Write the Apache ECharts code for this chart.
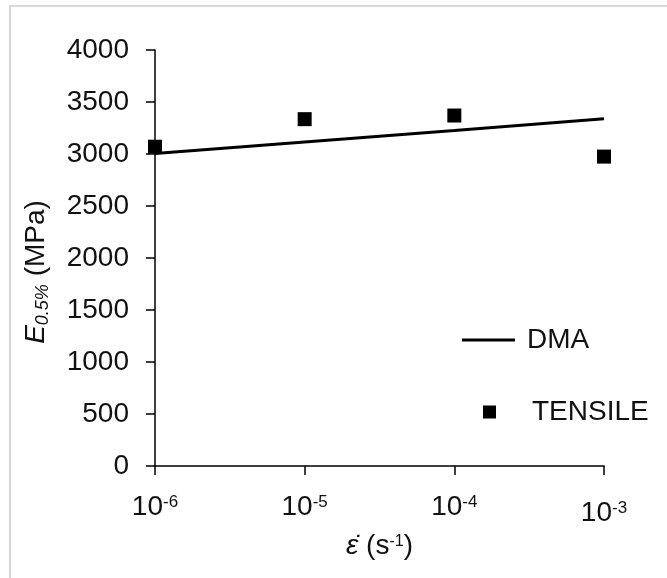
<!DOCTYPE html>
<html>
<head>
<meta charset="utf-8">
<script src="https://cdn.jsdelivr.net/npm/echarts@6/dist/echarts.min.js"></script>
<style>
html,body{margin:0;padding:0;background:#fff;}
#chart{width:667px;height:578px;}
</style>
</head>
<body>
<div id="chart"></div>
<script>
// ---- data ----
var strainRates = [1e-6, 1e-5, 1e-4, 1e-3];
var tensileValues = [3070, 3335, 3370, 2975];
var dmaRates = [1e-6, 1e-5, 1e-4, 1e-3];
var dmaValues = [3005, 3115, 3225, 3340];
var xTickExponents = ['-6', '-5', '-4', '-3'];
var xTickBases = ['10', '10', '10', '10'];
var yTicks = [0, 500, 1000, 1500, 2000, 2500, 3000, 3500, 4000];

var FONT = 'Liberation Sans, Arial, sans-serif';
var TXT = '#111';
var FS = 28;

var chart = echarts.init(document.getElementById('chart'), null, {renderer: 'canvas'});

function pairs(xs, ys) { return xs.map(function (x, i) { return [x, ys[i]]; }); }

var option = {
  animation: false,
  backgroundColor: '#fff',
  graphic: [{
    type: 'rect',
    shape: {x: 10, y: 6, width: 700, height: 700},
    style: {fill: 'none', stroke: '#d9d9d9', lineWidth: 2},
    silent: true, z: -10
  }],
  grid: {left: 155, right: 63, top: 50, bottom: 112, containLabel: false},
  xAxis: {
    type: 'log',
    logBase: 10,
    min: strainRates[0],
    max: strainRates[strainRates.length - 1],
    name: '{e|ε̇}{p| (s}{sup|-1}{p|)}',
    nameLocation: 'middle',
    nameGap: 63,
    nameTextStyle: {
      rich: {
        e: {fontFamily: FONT, fontSize: FS, fontStyle: 'italic', color: TXT, lineHeight: 32, verticalAlign: 'top'},
        p: {fontFamily: FONT, fontSize: FS, color: TXT, lineHeight: 32, verticalAlign: 'top'},
        sup: {fontFamily: FONT, fontSize: 16, color: TXT, lineHeight: 18, verticalAlign: 'top', padding: [2, 0, 0, 0]}
      }
    },
    axisLine: {show: true, onZero: false, lineStyle: {color: '#000', width: 1.5}},
    axisTick: {show: true, inside: false, length: 9, lineStyle: {color: '#000', width: 1.5}},
    splitLine: {show: false},
    minorTick: {show: false},
    axisLabel: {
      margin: 27,
      formatter: function (v) {
        var e = Math.round(Math.log10(v));
        var idx = strainRates.findIndex(function (r) { return Math.round(Math.log10(r)) === e; });
        if (idx < 0) return '';
        if (idx === strainRates.length - 1) return '{b2|' + xTickBases[idx] + '}{s2|' + xTickExponents[idx] + '}';
        return '{b|' + xTickBases[idx] + '}{s|' + xTickExponents[idx] + '}';
      },
      rich: {
        b: {fontFamily: FONT, fontSize: FS, color: TXT, lineHeight: 30, verticalAlign: 'top'},
        s: {fontFamily: FONT, fontSize: 17, color: TXT, lineHeight: 18, verticalAlign: 'top', padding: [1, 0, 0, 0]},
        b2: {fontFamily: FONT, fontSize: FS, color: TXT, lineHeight: 30, verticalAlign: 'top', padding: [6, 0, 0, 0]},
        s2: {fontFamily: FONT, fontSize: 17, color: TXT, lineHeight: 18, verticalAlign: 'top', padding: [7, 0, 0, 0]}
      }
    }
  },
  yAxis: {
    type: 'value',
    min: yTicks[0],
    max: yTicks[yTicks.length - 1],
    interval: yTicks[1] - yTicks[0],
    name: '{i|E}{sub|0.5%}{p| (MPa)}',
    nameLocation: 'middle',
    nameGap: 103,
    nameRotate: 90,
    nameTextStyle: {
      padding: [0, 28, 0, 0],
      rich: {
        i: {fontFamily: FONT, fontSize: FS, fontStyle: 'italic', color: TXT, lineHeight: 30, verticalAlign: 'top'},
        sub: {fontFamily: FONT, fontSize: 18, fontStyle: 'italic', color: TXT, lineHeight: 20, verticalAlign: 'top', padding: [12, 0, 0, 0]},
        p: {fontFamily: FONT, fontSize: FS, color: TXT, lineHeight: 30, verticalAlign: 'top'}
      }
    },
    axisLine: {show: true, lineStyle: {color: '#000', width: 1.5}},
    axisTick: {show: true, inside: false, length: 9, lineStyle: {color: '#000', width: 1.5}},
    splitLine: {show: false},
    axisLabel: {
      margin: 26, fontFamily: FONT, fontSize: FS, color: TXT,
      formatter: function (v) { return String(v); }
    }
  },
  legend: [{
    data: [{name: 'DMA', icon: 'rect'}],
    left: 457, top: 321,
    itemWidth: 53, itemHeight: 3,
    itemGap: 0,
    itemStyle: {color: '#000'},
    textStyle: {fontFamily: FONT, fontSize: FS, color: TXT, padding: [0, 0, 0, 7]}
  }, {
    data: [{name: 'TENSILE', icon: 'rect'}],
    left: 478, top: 393,
    itemWidth: 13, itemHeight: 13,
    itemStyle: {color: '#000', opacity: 1},
    textStyle: {fontFamily: FONT, fontSize: FS, color: TXT, padding: [0, 0, 0, 31]}
  }],
  series: [{
    name: 'DMA',
    type: 'line',
    data: pairs(dmaRates, dmaValues),
    symbol: 'none',
    lineStyle: {color: '#000', width: 3},
    itemStyle: {color: '#000'},
    z: 2
  }, {
    name: 'TENSILE',
    type: 'scatter',
    data: pairs(strainRates, tensileValues),
    symbol: 'rect',
    symbolSize: 14,
    itemStyle: {color: '#000', opacity: 1},
    z: 3
  }]
};
chart.setOption(option);
</script>
</body>
</html>
